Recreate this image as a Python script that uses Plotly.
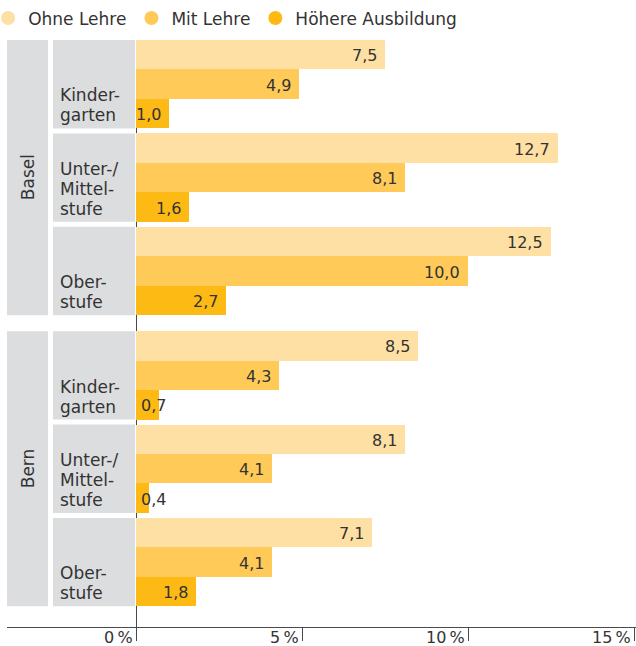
import plotly.graph_objects as go

# Data: share in % by city, school level and parents' education
cities = ["Basel", "Bern"]
levels = [["Kinder-", "garten"], ["Unter-/", "Mittel-", "stufe"], ["Ober-", "stufe"]]
series_names = ["Ohne Lehre", "Mit Lehre", "Höhere Ausbildung"]
ohne_lehre = [7.5, 12.7, 12.5, 8.5, 8.1, 7.1]
mit_lehre = [4.9, 8.1, 10.0, 4.3, 4.1, 4.1]
hoehere_ausbildung = [1.0, 1.6, 2.7, 0.7, 0.4, 1.8]
x_ticks = [0, 5, 10, 15]
x_tick_labels = ["0\u2009%", "5\u2009%", "10\u2009%", "15\u2009%"]

colors = ["#FEE0A4", "#FFCA58", "#FDBA14"]
panel_gray = "#DCDDDF"
text_color = "#333333"
axis_color = "#4A4A4A"
font_family = "'DejaVu Sans', sans-serif"

series = [ohne_lehre, mit_lehre, hoehere_ausbildung]

# Vertical layout in bar-height units
bar_h = 1.0
gap_group = 0.17
gap_city = 0.54
bottom_pad = 0.70
x_min, x_max = -3.886, 15.06
line_pitch = 20  # px between lines of a category label

group_tops = []
pos = 0.0
for ci, city in enumerate(cities):
    if ci > 0:
        pos += gap_city
    for li in range(len(levels)):
        if li > 0:
            pos += gap_group
        group_tops.append(pos)
        pos += 3 * bar_h
y_end = pos + bottom_pad

fig = go.Figure()

for si, (name, vals) in enumerate(zip(series_names, series)):
    ys = [top + (si + 0.5) * bar_h for top in group_tops]
    fig.add_trace(go.Bar(
        x=vals, y=ys, orientation="h", width=bar_h,
        marker=dict(color=colors[si], line=dict(width=0)),
        name=name, showlegend=False, hoverinfo="x",
    ))
    # Value labels
    for v, y in zip(vals, ys):
        label = f"{v:.1f}".replace(".", ",")
        if v < 1:
            fig.add_annotation(x=0, y=y, text=label, showarrow=False,
                               xanchor="left", xshift=3, yshift=-1,
                               font=dict(size=16, color=text_color))
        else:
            fig.add_annotation(x=v, y=y, text=label, showarrow=False,
                               xanchor="right", xshift=-6, yshift=-1,
                               font=dict(size=16, color=text_color))

# Legend entries with round markers
for si, name in enumerate(series_names):
    fig.add_trace(go.Scatter(
        x=[None], y=[None], mode="markers", name=name,
        marker=dict(symbol="circle", size=14, color=colors[si]),
    ))

shapes = []
n_lv = len(levels)
for ci, city in enumerate(cities):
    top = group_tops[ci * n_lv]
    bottom = group_tops[ci * n_lv + n_lv - 1] + 3 * bar_h
    # City panel
    shapes.append(dict(type="rect", xref="x", yref="y", x0=x_min, x1=-2.65,
                       y0=top, y1=bottom, fillcolor=panel_gray,
                       line=dict(width=0), layer="below"))
    fig.add_annotation(x=(x_min - 2.65) / 2, y=(top + bottom) / 2, text=city,
                       textangle=-90, showarrow=False,
                       font=dict(size=17, color=text_color))
    for li, lv in enumerate(levels):
        gt = group_tops[ci * n_lv + li]
        gb = gt + 3 * bar_h
        shapes.append(dict(type="rect", xref="x", yref="y", x0=-2.5, x1=-0.03,
                           y0=gt, y1=gb, fillcolor=panel_gray,
                           line=dict(width=0), layer="below"))
        # One annotation per line, stacked upwards from the panel bottom
        for k, line in enumerate(reversed(lv)):
            fig.add_annotation(x=-2.5, y=gb, text=line, showarrow=False,
                               xanchor="left", yanchor="middle",
                               borderpad=0,
                               xshift=6, yshift=13 + k * line_pitch,
                               font=dict(size=17, color=text_color))

# Tick labels sit to the left of each tick mark
for t, lab in zip(x_ticks, x_tick_labels):
    fig.add_annotation(x=t, y=0, xref="x", yref="paper", text=lab,
                       showarrow=False, xanchor="right", yanchor="top",
                       xshift=-1, yshift=1,
                       font=dict(size=16, color=text_color))

fig.update_layout(
    width=636, height=646,
    margin=dict(l=7, r=0, t=40, b=19, autoexpand=False),
    paper_bgcolor="white", plot_bgcolor="white",
    font=dict(family=font_family, size=17, color=text_color),
    barmode="overlay", bargap=0,
    shapes=shapes,
    legend=dict(orientation="h", x=-0.03, xanchor="left", xref="paper",
                y=1.006, yanchor="bottom", yref="paper",
                font=dict(size=17), bgcolor="rgba(0,0,0,0)",
                itemclick=False, itemdoubleclick=False),
    showlegend=True,
)

fig.update_xaxes(range=[x_min, x_max], tickvals=x_ticks, showticklabels=False,
                 ticks="outside", ticklen=13, tickcolor=axis_color, tickwidth=1,
                 showline=True, linecolor=axis_color, linewidth=1,
                 showgrid=False, zeroline=True, zerolinecolor=axis_color,
                 zerolinewidth=1, layer="above traces", fixedrange=True)
fig.update_yaxes(range=[y_end, 0], showticklabels=False, showgrid=False,
                 zeroline=False, showline=False, ticks="", fixedrange=True)

fig.write_html("out.html")
